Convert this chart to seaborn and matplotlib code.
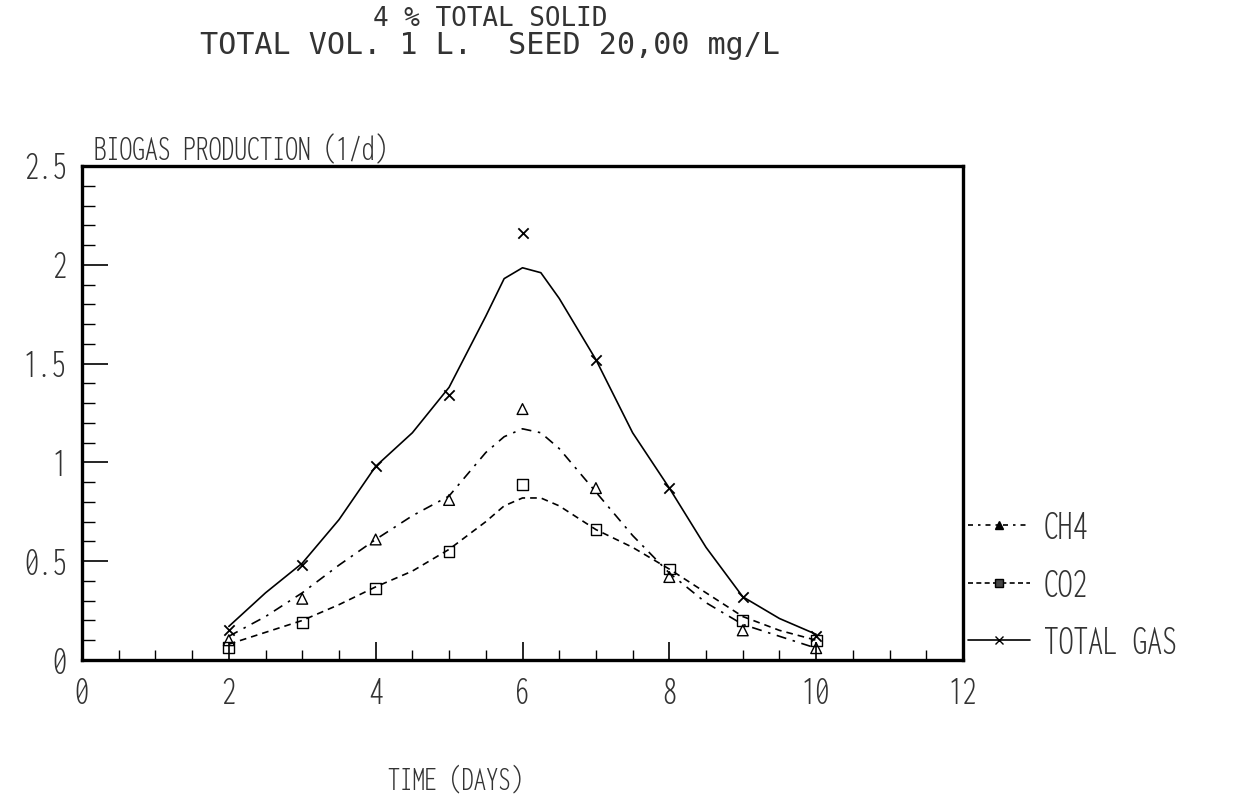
import os
import seaborn as sns
import matplotlib.pyplot as plt
from matplotlib import font_manager
from matplotlib.lines import Line2D
from matplotlib.ticker import MultipleLocator

# measured points (days, l/d)
days = [2, 3, 4, 5, 6, 7, 8, 9, 10]
ch4 = [0.10, 0.31, 0.61, 0.81, 1.27, 0.87, 0.42, 0.15, 0.06]
co2 = [0.065, 0.19, 0.36, 0.55, 0.89, 0.66, 0.46, 0.20, 0.10]
total = [0.15, 0.48, 0.98, 1.34, 2.16, 1.52, 0.87, 0.32, 0.12]

# fitted curves as drawn on the plot
fit_days = [2, 2.5, 3, 3.5, 4, 4.5, 5, 5.5, 5.75, 6, 6.25, 6.5, 7, 7.5, 8, 8.5, 9, 9.5, 10]
total_fit = [0.17, 0.34, 0.49, 0.71, 0.98, 1.15, 1.38, 1.74, 1.93, 1.985, 1.96, 1.83,
             1.52, 1.15, 0.87, 0.57, 0.32, 0.21, 0.13]
ch4_fit = [0.12, 0.22, 0.34, 0.48, 0.61, 0.73, 0.83, 1.05, 1.13, 1.17, 1.15, 1.07,
           0.85, 0.63, 0.44, 0.29, 0.18, 0.12, 0.06]
co2_fit = [0.08, 0.14, 0.20, 0.28, 0.37, 0.45, 0.56, 0.70, 0.78, 0.82, 0.82, 0.78,
           0.66, 0.57, 0.46, 0.34, 0.22, 0.15, 0.10]

x_ticks = [0, 2, 4, 6, 8, 10, 12]
y_ticks = [0, 0.5, 1, 1.5, 2, 2.5]
y_labels = ["0", "0.5", "1", "1.5", "2", "2.5"]
legend_labels = ["CH4", "CO2", "TOTAL GAS"]

sns.set_style("ticks")
txt = "#333333"

# plotter lettering is tall and narrow: find condensed faces
faces = {}
for f in font_manager.fontManager.ttflist:
    faces.setdefault(os.path.splitext(os.path.basename(f.fname))[0].lower(), f.fname)


def pick(prefs):
    for p in prefs:
        hits = [b for b in faces if p in b and not any(
            x in b for x in ["bold", "italic", "oblique"])]
        if hits:
            return sorted(hits)[0]
    return None


narrow = pick(["extracondensedlight", "extracondensed", "condensedlight",
               "condensed-light", "narrow", "condensed"])
wide = "notosansmono-light" if "notosansmono-light" in faces else None

fp_narrow = font_manager.FontProperties(fname=faces[narrow]) if narrow else \
    font_manager.FontProperties(family="DejaVu Sans", stretch="condensed")
fp_wide = font_manager.FontProperties(fname=faces[wide]) if wide else \
    font_manager.FontProperties(family="DejaVu Sans Mono")

fig = plt.figure(figsize=(12.36, 8.07), dpi=100)
ax = fig.add_axes([82 / 1236, 1 - 660 / 807, (963 - 82) / 1236, (660 - 166) / 807])
renderer = fig.canvas.get_renderer()


def fit(s, fp, w_px, cap_px):
    # size from cap height, shrunk if wider than the reference
    size = cap_px / 0.714 * 72 / 100
    t = fig.text(0, 0, s, fontproperties=fp, size=100)
    wpp = t.get_window_extent(renderer).width / 100
    t.remove()
    return min(size, w_px / wpp)


sns.lineplot(x=fit_days, y=total_fit, ax=ax, color="k", lw=1.2, linestyle="-",
             estimator=None, sort=False)
sns.lineplot(x=fit_days, y=ch4_fit, ax=ax, color="k", lw=1.2, linestyle=(0, (6, 4, 1.5, 4)),
             estimator=None, sort=False)
sns.lineplot(x=fit_days, y=co2_fit, ax=ax, color="k", lw=1.2, linestyle=(0, (4, 3)),
             estimator=None, sort=False)

sns.scatterplot(x=days, y=total, ax=ax, marker="x", s=55, color="k", linewidth=1.3)
sns.scatterplot(x=days, y=ch4, ax=ax, marker="^", s=60, facecolor="none",
                edgecolor="k", linewidth=1.0)
sns.scatterplot(x=days, y=co2, ax=ax, marker="s", s=60, facecolor="none",
                edgecolor="k", linewidth=1.0)

tick_size = fit("0.5", fp_narrow, 56, 29)

ax.set_xlim(0, 12)
ax.set_ylim(0, 2.5)
ax.set_xticks(x_ticks)
ax.set_xticklabels([str(t) for t in x_ticks], fontproperties=fp_narrow, size=tick_size,
                   color=txt)
ax.set_yticks(y_ticks)
ax.set_yticklabels(y_labels, fontproperties=fp_narrow, size=tick_size, color=txt)
ax.xaxis.set_minor_locator(MultipleLocator(0.5))
ax.yaxis.set_minor_locator(MultipleLocator(0.1))
ax.tick_params(axis="both", which="both", direction="in", bottom=True, left=True,
               top=False, right=False, colors="k", labelcolor=txt)
ax.tick_params(axis="x", which="major", length=13, width=1.2, pad=12)
ax.tick_params(axis="x", which="minor", length=7, width=1.0)
ax.tick_params(axis="y", which="major", length=19, width=1.2, pad=11)
ax.tick_params(axis="y", which="minor", length=9, width=1.0)
ax.set_xlabel("")
ax.set_ylabel("")
for s in ax.spines.values():
    s.set_visible(True)
    s.set_linewidth(2.4)
    s.set_color("k")

handles = [
    Line2D([], [], color="k", lw=1.2, linestyle=(0, (3, 3, 1.5, 3)), marker="^",
           markersize=6, markerfacecolor="k"),
    Line2D([], [], color="k", lw=1.2, linestyle=(0, (3, 2)), marker="s",
           markersize=6, markerfacecolor="#444"),
    Line2D([], [], color="k", lw=1.2, linestyle="-", marker="x", markersize=6),
]
lp = fp_narrow.copy()
lsize = fit("TOTAL GAS", fp_narrow, 173, 30)
lp.set_size(lsize)
fsz_px = lsize * 100 / 72
row_y = [528, 586, 643]
for h, lab, yy in zip(handles, legend_labels, row_y):
    fig.legend([h], [lab], loc="center left", bbox_to_anchor=(968 / 1236, 1 - yy / 807),
               frameon=False, prop=lp, handlelength=62 / fsz_px,
               handletextpad=14 / fsz_px, borderpad=0, borderaxespad=0,
               numpoints=1, labelcolor=txt)

s1 = "4 % TOTAL SOLID"
s2 = "TOTAL VOL. 1 L.  SEED 20,00 mg/L"
s3 = "BIOGAS PRODUCTION (1/d)"
s4 = "TIME (DAYS)"
fig.text(490 / 1236, 1 - 19 / 807, s1, ha="center", va="center",
         fontproperties=fp_wide, size=fit(s1, fp_wide, 235, 22), color=txt)
fig.text(490 / 1236, 1 - 46 / 807, s2, ha="center", va="center",
         fontproperties=fp_wide, size=fit(s2, fp_wide, 580, 22), color=txt)
fig.text(94 / 1236, 1 - 151 / 807, s3, ha="left", va="center",
         fontproperties=fp_narrow, size=fit(s3, fp_narrow, 292, 27), color=txt)
fig.text(455 / 1236, 1 - 781 / 807, s4, ha="center", va="center",
         fontproperties=fp_narrow, size=fit(s4, fp_narrow, 140, 25), color=txt)

fig.savefig("out.png", dpi=100, facecolor="white")
